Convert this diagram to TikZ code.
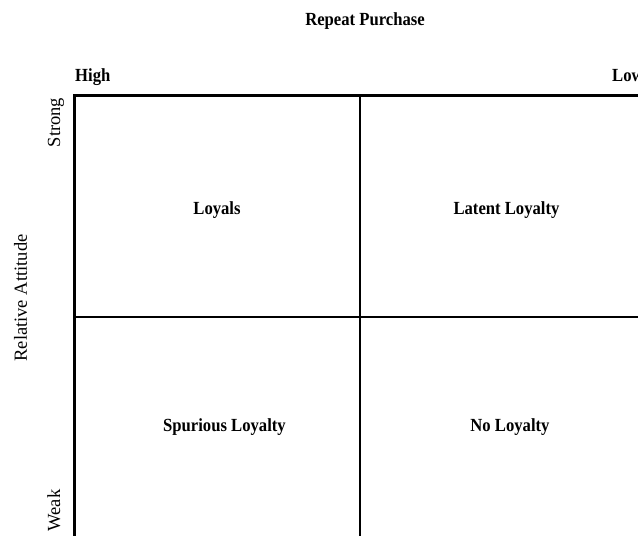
\documentclass[tikz,border=0pt]{standalone}
\usepackage{fontspec}
\setmainfont{Liberation Serif}
\newfontfamily\headfont[FakeStretch=0.9]{Liberation Serif}
\begin{document}
\begin{tikzpicture}[x=1pt,y=-1pt,
  outer/.style={line width=3pt,line join=miter},
  inner/.style={line width=2.3pt},
  head/.style={font=\headfont\bfseries\fontsize{18.5}{20}\selectfont,inner sep=0pt},
  side/.style={font=\fontsize{18.5}{20}\selectfont,inner sep=0pt,rotate=90,anchor=base},
  cell/.style={head,anchor=base}]
  \useasboundingbox (0,0) rectangle (638,536);
  % grid corners
  \coordinate (TL) at (74,95);
  \coordinate (TM) at (360,95);
  \coordinate (TR) at (640,95);
  \coordinate (ML) at (74,317);
  \coordinate (MR) at (640,317);
  \coordinate (BL) at (74,540);
  \coordinate (BM) at (360,540);
  % grid
  \draw[inner] (TM) -- (BM);
  \draw[inner] (ML) -- (MR);
  \draw[outer] (BL) -- (TL) -- (TR);
  % axis titles
  \node[head,anchor=base] (title) at (365,25) {Repeat Purchase};
  \node[head,anchor=base west] (high) at (75,81) {High};
  \node[head,anchor=base west] (low) at (612,81) {Low};
  \node[side] (attitude) at (27,298) {Relative Attitude};
  \node[side] (strong) at (60,122.5) {Strong};
  \node[side] (weak) at (60,510.5) {Weak};
  % quadrants
  \node[cell] (loyals) at (217,214) {Loyals};
  \node[cell] (latent) at (506.5,214) {Latent Loyalty};
  \node[cell] (spurious) at (224.5,431) {Spurious Loyalty};
  \node[cell] (none) at (510,431) {No Loyalty};
\end{tikzpicture}
\end{document}
